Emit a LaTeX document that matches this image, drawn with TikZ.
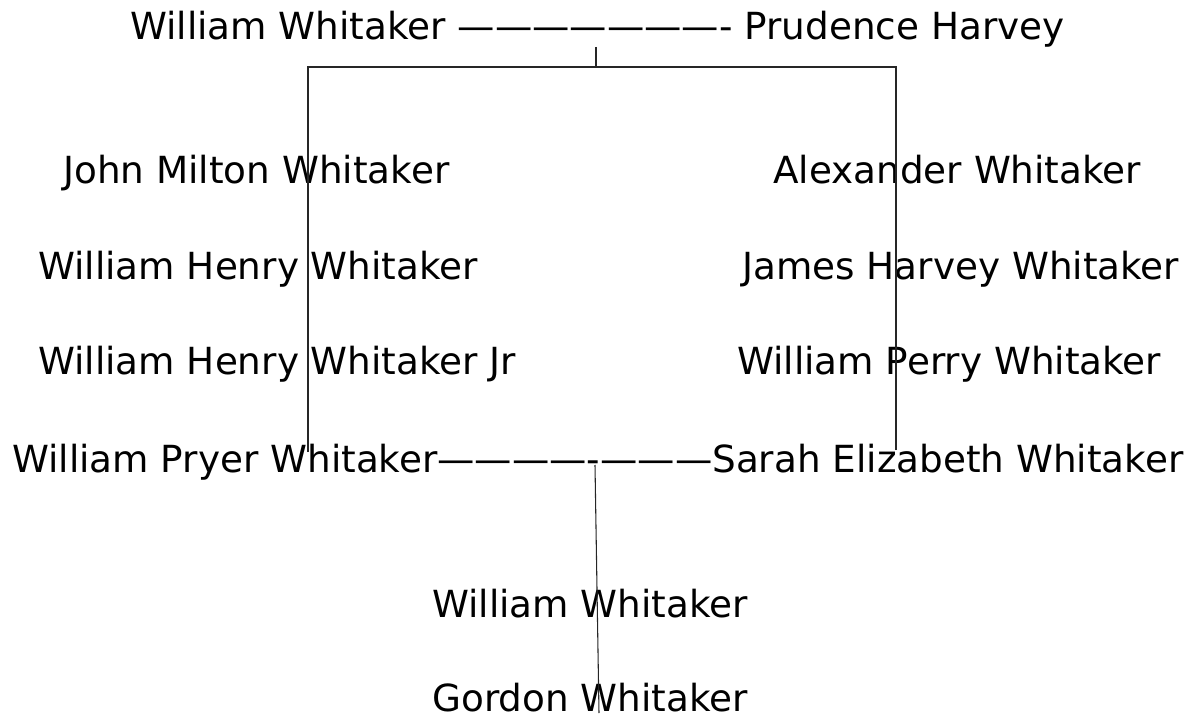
\documentclass[tikz,border=0pt]{standalone}
\usepackage{fontspec}
\setmainfont{DejaVu Sans}
\tikzset{%
  person/.style={anchor=base west, inner sep=0pt, font=\fontsize{28}{34}\selectfont},
  branch/.style={draw, line width=0.8pt, black!85},
}

\begin{document}
\begin{tikzpicture}[x=0.75pt,y=-0.75pt]
  \useasboundingbox (0,0) rectangle (1197,717);
  % first couple
  \node [person] (parents) at (130,40) {William Whitaker ———————- Prudence Harvey};
  % left column
  \node [person] (john)   at (63,184)  {John Milton Whitaker};
  \node [person] (henry)  at (38,279)  {William Henry Whitaker};
  \node [person] (henryjr) at (38,374) {William Henry Whitaker Jr};
  % second couple
  \node [person] (couple) at (12,472)  {William Pryer Whitaker————-———Sarah Elizabeth Whitaker};
  % right column
  \node [person] (alex)   at (773,184) {Alexander Whitaker};
  \node [person] (james)  at (742,279) {James Harvey Whitaker};
  \node [person] (perry)  at (737,374) {William Perry Whitaker};
  % children
  \node [person] (william) at (432,617) {William Whitaker};
  \node [person] (gordon)  at (432,711) {Gordon Whitaker};
  % branch points
  \coordinate (top)   at (596,47);
  \coordinate (mid)   at (596,67);
  \coordinate (left)  at (308,67);
  \coordinate (right) at (896,67);
  \coordinate (leftend)  at (308,452);
  \coordinate (rightend) at (896,450);
  \coordinate (down)  at (595,465);
  \coordinate (end)   at (599,713);
  \draw [branch] (top) -- (mid);
  \draw [branch] (leftend) -- (left) -- (right) -- (rightend);
  \draw [branch] (down) -- (end);
\end{tikzpicture}
\end{document}
